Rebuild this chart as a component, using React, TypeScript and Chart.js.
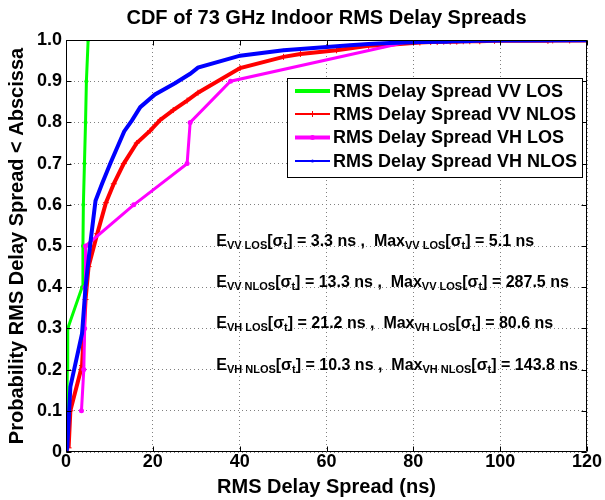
import React, { useEffect, useRef } from "react";
import { Chart, registerables } from "chart.js";

Chart.register(...registerables);

const chartTitle = "CDF of 73 GHz Indoor RMS Delay Spreads";
const xAxisTitle = "RMS Delay Spread (ns)";
const yAxisTitle = "Probability RMS Delay Spread < Abscissa";

const seriesLabels = [
  "RMS Delay Spread VV LOS",
  "RMS Delay Spread VV NLOS",
  "RMS Delay Spread VH LOS",
  "RMS Delay Spread VH NLOS",
];

const xTickMin = 0;
const xTickMax = 120;
const xTickStep = 20;
const yTickMin = 0;
const yTickMax = 1;
const yTickStep = 0.1;

// VV LOS (green)
const vvLosDelay = [0.2, 0.3, 0.4, 3.7, 3.9, 4.0, 4.25, 4.5, 4.7, 5.1];
const vvLosProb = [0.1, 0.2, 0.3, 0.4, 0.5, 0.6, 0.7, 0.8, 0.9, 1.0];

// VV NLOS (red)
const vvNlosDelay = [
  0.6, 1.0, 3.7, 4.5, 5.2, 7.2, 9.2, 11.0, 13.3, 16.3, 19.4, 21.7, 24.7, 27.9,
  30.4, 40.1, 50.1, 54.0, 62.3, 69.7, 73.0, 81.5, 84.0, 85.5, 87.0, 88.5, 90.0,
  91.5, 93.0, 95.3, 98.7, 111.0, 112.1, 116.0, 287.5,
];
const vvNlosProb = [
  0.01, 0.1, 0.21, 0.37, 0.45, 0.53, 0.605, 0.651, 0.7, 0.75, 0.78, 0.806, 0.83,
  0.853, 0.872, 0.932, 0.959, 0.966, 0.975, 0.986, 0.987, 0.994, 0.995, 0.995,
  0.996, 0.996, 0.996, 0.997, 0.997, 0.997, 0.998, 0.998, 0.999, 0.999, 1.0,
];

// VH LOS (magenta)
const vhLosDelay = [3.56, 4.1, 4.3, 4.4, 4.5, 15.6, 27.9, 28.6, 37.9, 80.6];
const vhLosProb = [0.1, 0.2, 0.3, 0.4, 0.5, 0.6, 0.7, 0.8, 0.9, 1.0];

// VH NLOS (blue)
const vhNlosDelay = [
  0.1, 0.3, 1.0, 3.7, 4.5, 5.6, 6.8, 8.3, 10.2, 13.4, 15.2, 17.1, 20.5, 25.1,
  28.6, 30.4, 40.1, 50.1, 54.0, 65.4, 69.7, 74.6, 82.0, 86.0, 87.6, 89.1, 91.1,
  92.2, 94.5, 95.3, 96.8, 101.0, 103.0, 103.7, 105.6, 143.8,
];
const vhNlosProb = [
  0.002, 0.013, 0.158, 0.288, 0.4, 0.506, 0.61, 0.651, 0.7, 0.778, 0.805, 0.837,
  0.868, 0.895, 0.918, 0.933, 0.962, 0.975, 0.978, 0.987, 0.99, 0.993, 0.995,
  0.996, 0.996, 0.997, 0.997, 0.997, 0.998, 0.998, 0.998, 0.999, 0.999, 0.999,
  0.999, 1.0,
];

// Annotation statistics
const meanSubscripts = ["VV LOS", "VV NLOS", "VH LOS", "VH NLOS"];
const maxSubscripts = ["VV LOS", "VV LOS", "VH LOS", "VH NLOS"];
const meanDelays = ["3.3", "13.3", "21.2", "10.3"];
const maxDelays = ["5.1", "287.5", "80.6", "143.8"];

const FONT = "'Liberation Sans', Arial, Helvetica, sans-serif";

type Seg = { t: string; sub?: boolean };

function buildRow(i: number): Seg[] {
  return [
    { t: "E" },
    { t: meanSubscripts[i], sub: true },
    { t: "[σ" },
    { t: "t", sub: true },
    { t: `] = ${meanDelays[i]} ns ,  Max` },
    { t: maxSubscripts[i], sub: true },
    { t: "[σ" },
    { t: "t", sub: true },
    { t: `] = ${maxDelays[i]} ns` },
  ];
}

const decorPlugin = {
  id: "decor",
  afterDatasetsDraw(chart: any) {
    const { ctx, chartArea: a, scales } = chart;
    const xs = scales.x;
    const ys = scales.y;
    ctx.save();

    // annotations
    ctx.fillStyle = "#000";
    ctx.textBaseline = "alphabetic";
    ctx.textAlign = "left";
    for (let i = 0; i < meanDelays.length; i++) {
      let px = xs.getPixelForValue(34.6);
      const base = ys.getPixelForValue(0.5 - i * 0.1);
      for (const s of buildRow(i)) {
        ctx.font = `bold ${s.sub ? 11 : 16}px ${FONT}`;
        ctx.fillText(s.t, px, base + (s.sub ? 3 : 0));
        px += ctx.measureText(s.t).width;
      }
    }

    // axes box
    const L = Math.round(a.left) + 0.5;
    const R = Math.round(a.right) - 0.5;
    const T = Math.round(a.top) + 0.5;
    const B = Math.round(a.bottom) - 0.5;
    ctx.strokeStyle = "#000";
    ctx.lineWidth = 1;
    ctx.setLineDash([]);
    ctx.beginPath();
    ctx.rect(L, T, R - L, B - T);
    const tl = 5;
    for (const t of xs.ticks) {
      const p = Math.round(xs.getPixelForValue(t.value)) + 0.5;
      ctx.moveTo(p, B);
      ctx.lineTo(p, B - tl);
      ctx.moveTo(p, T);
      ctx.lineTo(p, T + tl);
    }
    for (const t of ys.ticks) {
      const p = Math.round(ys.getPixelForValue(t.value)) + 0.5;
      ctx.moveTo(L, p);
      ctx.lineTo(L + tl, p);
      ctx.moveTo(R, p);
      ctx.lineTo(R - tl, p);
    }
    ctx.stroke();

    // title
    ctx.font = `bold 20px ${FONT}`;
    ctx.textAlign = "center";
    ctx.textBaseline = "middle";
    ctx.fillText(chartTitle, (a.left + a.right) / 2, 18);

    // legend
    const lx = 287.5, ly = 78.5, lw = 295, lh = 99;
    ctx.fillStyle = "#fff";
    ctx.fillRect(lx, ly, lw, lh);
    ctx.strokeStyle = "#000";
    ctx.strokeRect(lx, ly, lw, lh);
    const rows = [91, 114, 137.5, 161];
    const legendWidths = [4, 2, 4, 2];
    chart.data.datasets.forEach((ds: any, i: number) => {
      const yy = rows[i];
      ctx.strokeStyle = ds.borderColor;
      ctx.lineWidth = legendWidths[i];
      ctx.beginPath();
      ctx.moveTo(295, yy);
      ctx.lineTo(330, yy);
      ctx.stroke();
      ctx.fillStyle = ds.borderColor;
      ctx.lineWidth = 1;
      if (ds.pointStyle === "cross") {
        ctx.beginPath();
        ctx.moveTo(309.5, yy);
        ctx.lineTo(315.5, yy);
        ctx.moveTo(312.5, yy - 3);
        ctx.lineTo(312.5, yy + 3);
        ctx.stroke();
      } else {
        ctx.beginPath();
        ctx.arc(312.5, yy, ds.pointRadius, 0, Math.PI * 2);
        ctx.fill();
      }
      ctx.fillStyle = "#000";
      ctx.font = `bold 18px ${FONT}`;
      ctx.textAlign = "left";
      ctx.textBaseline = "middle";
      ctx.fillText(ds.label, 333, yy + 1);
    });

    ctx.restore();
  },
};

function pts(xs: number[], ys: number[]) {
  return xs.map((x, i) => ({ x, y: ys[i] }));
}

export default function App() {
  const ref = useRef<HTMLCanvasElement>(null);
  useEffect(() => {
    const canvas = ref.current!;
    const chart = new Chart(canvas, {
      type: "scatter",
      data: {
        datasets: [
          {
            label: seriesLabels[0],
            data: pts(vvLosDelay, vvLosProb),
            showLine: true,
            borderColor: "#00ff00",
            backgroundColor: "#00ff00",
            borderWidth: 3,
            pointStyle: "circle",
            pointRadius: 2,
            pointBorderWidth: 0,
            pointBackgroundColor: "#00ff00",
            order: 3,
          },
          {
            label: seriesLabels[1],
            data: pts(vvNlosDelay, vvNlosProb),
            showLine: true,
            borderColor: "#ff0000",
            backgroundColor: "#ff0000",
            borderWidth: 4,
            pointStyle: "cross",
            pointRadius: 3,
            pointBorderWidth: 1,
            pointBorderColor: "#ff0000",
            order: 2,
          },
          {
            label: seriesLabels[2],
            data: pts(vhLosDelay, vhLosProb),
            showLine: true,
            borderColor: "#ff00ff",
            backgroundColor: "#ff00ff",
            borderWidth: 3,
            pointStyle: "circle",
            pointRadius: 2.5,
            pointBorderWidth: 0,
            pointBackgroundColor: "#ff00ff",
            order: 1,
          },
          {
            label: seriesLabels[3],
            data: pts(vhNlosDelay, vhNlosProb),
            showLine: true,
            borderColor: "#0000ff",
            backgroundColor: "#0000ff",
            borderWidth: 4,
            pointStyle: "circle",
            pointRadius: 1.5,
            pointBorderWidth: 0,
            pointBackgroundColor: "#0000ff",
            order: 0,
          },
        ] as any,
      },
      options: {
        responsive: false,
        animation: false,
        devicePixelRatio: 1,
        layout: { padding: { left: 0, right: 18, top: 40, bottom: 0 } },
        plugins: {
          legend: { display: false },
          title: { display: false },
          tooltip: { enabled: false },
        },
        elements: { line: { tension: 0 } },
        scales: {
          x: {
            type: "linear",
            min: xTickMin,
            max: xTickMax,
            ticks: {
              stepSize: xTickStep,
              color: "#000",
              padding: 1,
              maxRotation: 0,
              font: { family: FONT, size: 18, weight: "bold", lineHeight: 1 },
            },
            grid: {
              color: "#808080",
              lineWidth: 1,
              drawTicks: false,
            },
            border: { display: false, dash: [1, 3] },
            title: {
              display: true,
              text: xAxisTitle,
              color: "#000",
              font: { family: FONT, size: 20, weight: "bold" },
              padding: { top: 0, bottom: 1 },
            },
            afterFit: (s: any) => {
              s.height = 48;
            },
          },
          y: {
            type: "linear",
            min: yTickMin,
            max: yTickMax,
            ticks: {
              stepSize: yTickStep,
              color: "#000",
              padding: 4,
              font: { family: FONT, size: 18, weight: "bold" },
            },
            grid: {
              color: "#808080",
              lineWidth: 1,
              drawTicks: false,
            },
            border: { display: false, dash: [1, 3] },
            title: {
              display: true,
              text: yAxisTitle,
              color: "#000",
              font: { family: FONT, size: 20, weight: "bold" },
              padding: { top: 5, bottom: 0 },
            },
            afterFit: (s: any) => {
              s.width = 66;
            },
          },
        },
      } as any,
      plugins: [decorPlugin],
    });
    return () => chart.destroy();
  }, []);
  return (
    <div
      style={{
        position: "absolute",
        left: 0,
        top: 0,
        width: 605,
        height: 500,
        background: "#fff",
      }}
    >
      <canvas
        ref={ref}
        width={605}
        height={500}
        style={{ width: 605, height: 500, display: "block" }}
      />
    </div>
  );
}
